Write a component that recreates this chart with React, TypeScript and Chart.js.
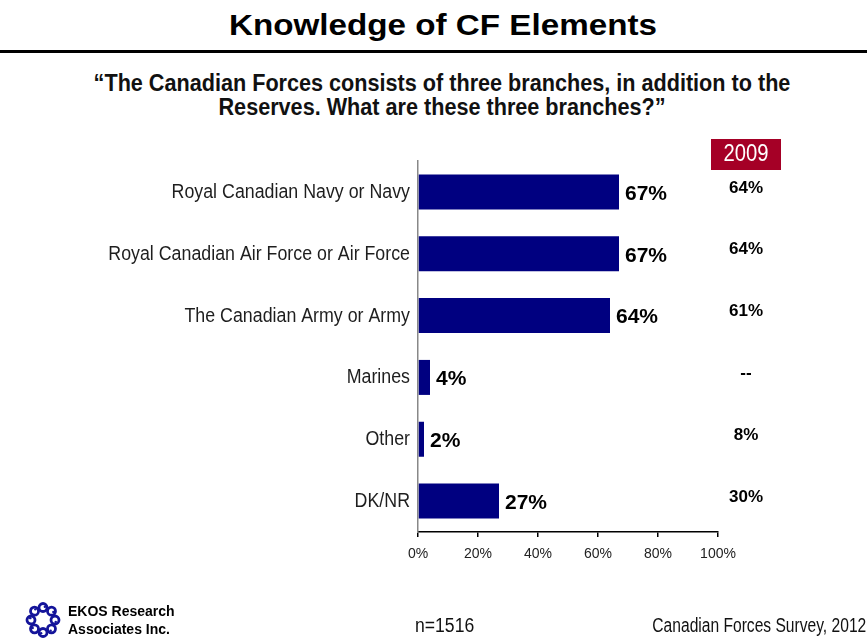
import React, { useEffect, useRef } from "react";
import { Chart, registerables } from "chart.js";

Chart.register(...registerables);

const categories = [
  "Royal Canadian Navy or Navy",
  "Royal Canadian Air Force or Air Force",
  "The Canadian Army or Army",
  "Marines",
  "Other",
  "DK/NR",
];
const values2012 = [67, 67, 64, 4, 2, 27];
const labels2009 = ["64%", "64%", "61%", "--", "8%", "30%"];
const xTickValues = [0, 20, 40, 60, 80, 100];
const titleText = "Knowledge of CF Elements";
const subtitleLines = [
  "\u201CThe Canadian Forces consists of three branches, in addition to the",
  "Reserves. What are these three branches?\u201D",
];
const compareYear = "2009";
const sampleText = "n=1516";
const sourceText = "Canadian Forces Survey, 2012";
const logoLines = ["EKOS Research", "Associates Inc."];

const ARIAL = '"Liberation Sans", Arial, sans-serif';

function narrowText(ctx: any, text: string, x: number, y: number, sx: number) {
  ctx.save();
  ctx.translate(x, y);
  ctx.scale(sx, 1);
  ctx.fillText(text, 0, 0);
  ctx.restore();
}

const labelsPlugin = {
  id: "valueLabels",
  afterDatasetsDraw(chart: any) {
    const ctx = chart.ctx;
    const meta = chart.getDatasetMeta(0);
    const yScale = chart.scales.y;
    ctx.save();
    // category labels (condensed)
    ctx.fillStyle = "#1e1e1e";
    ctx.font = `20px ${ARIAL}`;
    ctx.textAlign = "right";
    ctx.textBaseline = "alphabetic";
    categories.forEach((c, i) => {
      const y = yScale.getPixelForValue(i);
      narrowText(ctx, c, yScale.right - 8, y + 6, 0.89);
    });
    // 2012 value labels
    ctx.fillStyle = "#000";
    ctx.font = `bold 21px ${ARIAL}`;
    ctx.textAlign = "left";
    ctx.textBaseline = "middle";
    meta.data.forEach((bar: any, i: number) => {
      ctx.fillText(`${values2012[i]}%`, bar.x + 6, bar.y + 2);
    });
    // 2009 header box
    const colX = 746;
    ctx.fillStyle = "#A50026";
    ctx.fillRect(711, 139, 70, 31);
    ctx.fillStyle = "#fff";
    ctx.font = `23px ${ARIAL}`;
    ctx.textAlign = "center";
    ctx.textBaseline = "alphabetic";
    narrowText(ctx, compareYear, colX, 161, 0.88);
    ctx.fillStyle = "#000";
    ctx.font = `bold 17px ${ARIAL}`;
    ctx.textBaseline = "middle";
    labels2009.forEach((t, i) => {
      const y = yScale.getPixelForValue(i);
      ctx.fillText(t, colX, y - 4);
    });
    ctx.restore();
  },
};

function ChartCanvas() {
  const ref = useRef<HTMLCanvasElement>(null);
  useEffect(() => {
    if (!ref.current) return;
    const chart = new Chart(ref.current, {
      type: "bar",
      data: {
        labels: categories,
        datasets: [
          {
            data: values2012,
            backgroundColor: "#000080",
            borderWidth: 0,
            categoryPercentage: 1,
            barPercentage: 0.566,
          },
        ],
      },
      options: {
        indexAxis: "y",
        responsive: false,
        animation: false,
        events: [],
        layout: { padding: { left: 0, right: 149, top: 161, bottom: 70 } },
        plugins: { legend: { display: false }, tooltip: { enabled: false } },
        scales: {
          x: {
            min: 0,
            max: 100,
            afterBuildTicks: (scale: any) => {
              scale.ticks = xTickValues.map((v) => ({ value: v }));
            },
            afterFit: (scale: any) => {
              scale.height = 40;
            },
            border: { display: true, color: "#000", width: 1.5 },
            grid: {
              display: true,
              drawOnChartArea: false,
              drawTicks: true,
              tickLength: 5,
              color: "#000",
              lineWidth: 1.5,
            },
            ticks: {
              callback: (v: any) => `${v}%`,
              font: { family: ARIAL, size: 14 },
              color: "#222",
              padding: 9,
              maxRotation: 0,
            },
          },
          y: {
            afterFit: (scale: any) => {
              scale.width = 418;
            },
            border: { display: true, color: "#888", width: 1.5 },
            grid: { display: false, drawTicks: false, tickLength: 0 },
            ticks: { display: false },
          },
        },
      },
      plugins: [labelsPlugin],
    });
    return () => chart.destroy();
  }, []);
  return (
    <canvas
      ref={ref}
      width={867}
      height={642}
      style={{ position: "absolute", left: 0, top: 0, width: 867, height: 642 }}
    />
  );
}

function Logo() {
  const curls = [0, 1, 2, 3, 4, 5, 6, 7];
  return (
    <svg
      width={38}
      height={38}
      viewBox="0 0 38 38"
      style={{ position: "absolute", left: 24, top: 601 }}
    >
      {curls.map((i) => {
        const a = (i / 8) * Math.PI * 2 - Math.PI / 2;
        const cx = 19 + Math.cos(a) * 12;
        const cy = 19 + Math.sin(a) * 12.5;
        return (
          <g key={i}>
            <circle cx={cx} cy={cy} r={4} fill="none" stroke="#14149a" strokeWidth={2.8} />
            <circle cx={cx + Math.cos(a + 1.2) * 2} cy={cy + Math.sin(a + 1.2) * 2} r={1.2} fill="#14149a" />
          </g>
        );
      })}
    </svg>
  );
}

export default function App() {
  return (
    <div
      style={{
        position: "absolute",
        left: 0,
        top: 0,
        width: 867,
        height: 642,
        background: "#fff",
        overflow: "hidden",
      }}
    >
      <div
        style={{
          position: "absolute",
          left: 443,
          top: 11,
          transform: "translateX(-50%) scaleX(1.145)",
          whiteSpace: "nowrap",
          font: `bold 29px/29px ${ARIAL}`,
          color: "#000",
        }}
      >
        {titleText}
      </div>
      <div
        style={{
          position: "absolute",
          left: 0,
          top: 50,
          width: 867,
          height: 3,
          background: "#000",
        }}
      />
      <div
        style={{
          position: "absolute",
          left: 442,
          top: 71,
          transform: "translateX(-50%) scaleX(0.94)",
          textAlign: "center",
          whiteSpace: "nowrap",
          font: `bold 23px/24px ${ARIAL}`,
          color: "#111",
        }}
      >
        {subtitleLines.map((l, i) => (
          <div key={i}>{l}</div>
        ))}
      </div>
      <ChartCanvas />
      <Logo />
      <div
        style={{
          position: "absolute",
          left: 68,
          top: 602,
          font: `bold 14px/18px ${ARIAL}`,
          color: "#000",
          whiteSpace: "nowrap",
        }}
      >
        {logoLines.map((l, i) => (
          <div key={i}>{l}</div>
        ))}
      </div>
      <div
        style={{
          position: "absolute",
          left: 415,
          top: 614,
          transformOrigin: "0 0",
          transform: "scaleX(0.88)",
          font: `20px/22px ${ARIAL}`,
          color: "#111",
          whiteSpace: "nowrap",
        }}
      >
        {sampleText}
      </div>
      <div
        style={{
          position: "absolute",
          right: 1,
          top: 614,
          transformOrigin: "100% 0",
          transform: "scaleX(0.78)",
          font: `20px/22px ${ARIAL}`,
          color: "#111",
          whiteSpace: "nowrap",
        }}
      >
        {sourceText}
      </div>
    </div>
  );
}
